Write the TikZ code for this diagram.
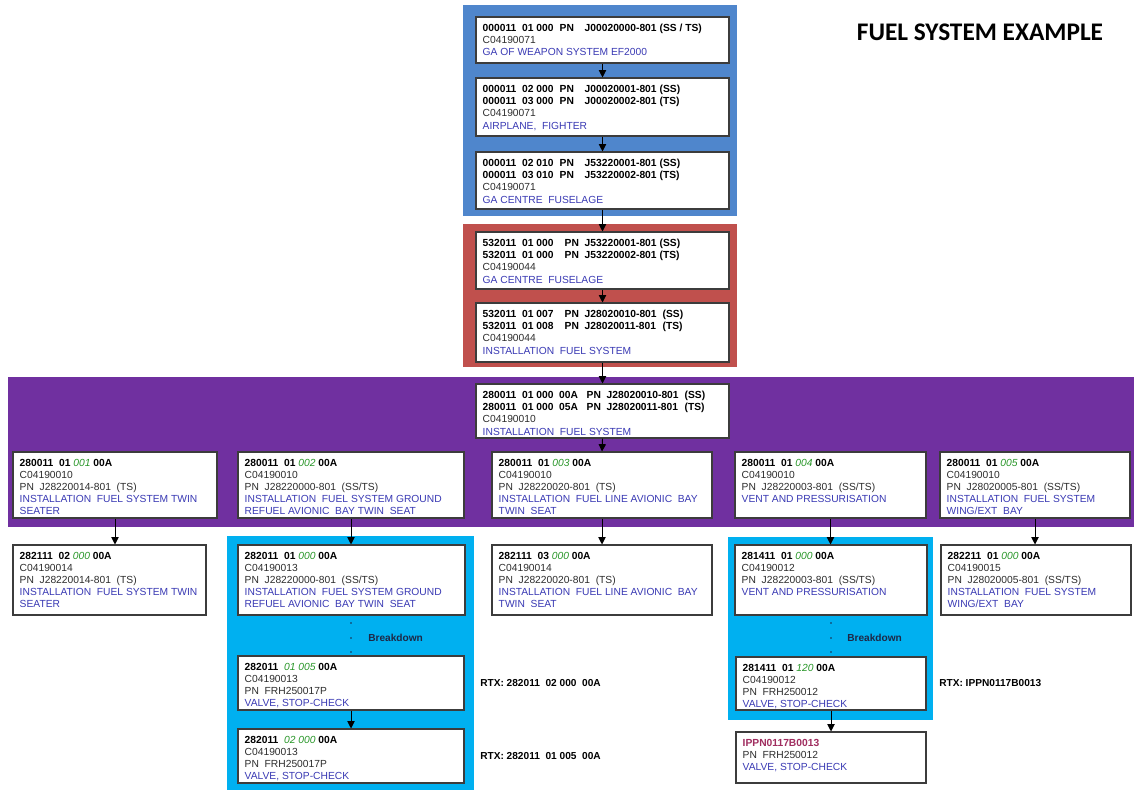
\documentclass[tikz,border=0pt]{standalone}
\usepackage{fontspec}
\setmainfont{Liberation Sans}
\newfontfamily\titlefont{Carlito}
\usetikzlibrary{arrows.meta}

% one unit = one pixel of the 1134 x 790 sheet
\newlength\pxu \setlength\pxu{0.75pt}

\definecolor{frameblue}{RGB}{79,134,204}
\definecolor{framered}{RGB}{192,80,77}
\definecolor{framepurple}{RGB}{112,48,160}
\definecolor{framecyan}{RGB}{0,176,240}
\definecolor{boxline}{RGB}{60,60,60}
\definecolor{codegray}{RGB}{45,45,45}
\definecolor{descblue}{RGB}{58,58,180}
\definecolor{codegreen}{RGB}{40,150,40}
\definecolor{ippnred}{RGB}{160,45,95}
\definecolor{bdnavy}{RGB}{30,40,70}

% text helpers
\newcommand\cn[1]{\textcolor{codegray}{#1}}
\newcommand\ds[1]{\textcolor{descblue}{#1}}
\newcommand\gn[1]{\textcolor{codegreen}{\mdseries\itshape #1}}
% header line: code | PN | part number | tag, in fixed columns
\newcommand\hdr[6]{\makebox[#1\pxu][l]{#2}\makebox[#3\pxu][l]{PN}\makebox[#4\pxu][l]{#5}#6}

\tikzset{
  itembox/.style={draw=boxline, line width=0.8pt, fill=white, inner sep=0pt},
  itemtext/.style={anchor=north west, inner sep=0pt, align=left, text=black,
    font=\fontsize{7.7pt}{9.1pt}\selectfont},
  frame/.style={draw=none, inner sep=0pt},
  arr/.style={draw=black, line width=0.7pt, -{Triangle[width=5.5pt,length=5.5pt]}},
  rtx/.style={anchor=west, inner sep=0pt, font=\fontsize{7.6pt}{9.1pt}\selectfont\bfseries},
  bdlabel/.style={anchor=west, inner sep=0pt, text=bdnavy, font=\fontsize{7.6pt}{9.1pt}\selectfont\bfseries},
  bddot/.style={circle, fill=bdnavy, inner sep=0pt, minimum size=1.4pt},
}

% \bx{name}{x1}{y1}{x2}{y2}{text}
\newcommand\bx[6]{%
  \node[itembox, minimum width={(#4-#2)*0.75pt}, minimum height={(#5-#3)*0.75pt}]
    (#1) at ({(#2+#4)/2},{(#3+#5)/2}) {};
  \node[itemtext] (#1t) at ([shift={(7,7.5)}]#1.north west) {#6};}
% \frm{name}{x1}{y1}{x2}{y2}{colour}
\newcommand\frm[6]{%
  \node[frame, fill=#6, minimum width={(#4-#2)*0.75pt}, minimum height={(#5-#3)*0.75pt}]
    (#1) at ({(#2+#4)/2},{(#3+#5)/2}) {};}

\begin{document}
\begin{tikzpicture}[x=0.75pt, y=-0.75pt]
\useasboundingbox[fill=white] (0,0) rectangle (1134,790);

% coloured groups
\frm{gtop}{463}{5}{737}{216}{frameblue}
\frm{gmid}{463}{224}{737}{367}{framered}
\frm{gfuel}{8}{377}{1134}{527}{framepurple}
\frm{gleft}{227}{536}{474}{790}{framecyan}
\frm{gright}{728}{537}{933}{720}{framecyan}

\node[font=\titlefont\bfseries\fontsize{19pt}{22pt}\selectfont, inner sep=0pt] (title) at (980,32) {FUEL SYSTEM EXAMPLE};

% weapon system level
\bx{b1}{476}{17}{729}{63}{\textbf{\hdr{77}{000011~ 01 000}{25}{75}{J00020000-801}{(SS / TS)}}\\\cn{C04190071}\\\ds{GA OF WEAPON SYSTEM EF2000}}
\bx{b2}{476}{78}{729}{136}{\textbf{\hdr{77}{000011~ 02 000}{25}{75}{J00020001-801}{(SS)}}\\\textbf{\hdr{77}{000011~ 03 000}{25}{75}{J00020002-801}{(TS)}}\\\cn{C04190071}\\\ds{AIRPLANE,~ FIGHTER}}
\bx{b3}{476}{152}{729}{209}{\textbf{\hdr{77}{000011~ 02 010}{25}{75}{J53220001-801}{(SS)}}\\\textbf{\hdr{77}{000011~ 03 010}{25}{75}{J53220002-801}{(TS)}}\\\cn{C04190071}\\\ds{GA CENTRE~ FUSELAGE}}

% airframe level
\bx{b4}{476}{232}{729}{289}{\textbf{\hdr{82}{532011~ 01 000}{20}{75}{J53220001-801}{(SS)}}\\\textbf{\hdr{82}{532011~ 01 000}{20}{75}{J53220002-801}{(TS)}}\\\cn{C04190044}\\\ds{GA CENTRE~ FUSELAGE}}
\bx{b5}{476}{303}{729}{362}{\textbf{\hdr{82}{532011~ 01 007}{20}{78}{J28020010-801}{(SS)}}\\\textbf{\hdr{82}{532011~ 01 008}{20}{78}{J28020011-801}{(TS)}}\\\cn{C04190044}\\\ds{INSTALLATION~ FUEL SYSTEM}}

% fuel system level
\bx{b6}{476}{384}{729}{438}{\textbf{\hdr{104}{280011~ 01 000~ 00A}{20}{78}{J28020010-801}{(SS)}}\\\textbf{\hdr{104}{280011~ 01 000~ 05A}{20}{78}{J28020011-801}{(TS)}}\\\cn{C04190010}\\\ds{INSTALLATION~ FUEL SYSTEM}}

\bx{fa}{13}{452}{217}{518}{\textbf{280011~ 01 \gn{001} 00A}\\\cn{C04190010}\\\cn{PN~ J28220014-801~ (TS)}\\\ds{INSTALLATION~ FUEL SYSTEM TWIN}\\\ds{SEATER}}
\bx{fb}{238}{452}{464}{518}{\textbf{280011~ 01 \gn{002} 00A}\\\cn{C04190010}\\\cn{PN~ J28220000-801~ (SS/TS)}\\\ds{INSTALLATION~ FUEL SYSTEM GROUND}\\\ds{REFUEL AVIONIC~ BAY TWIN~ SEAT}}
\bx{fc}{492}{452}{712}{518}{\textbf{280011~ 01 \gn{003} 00A}\\\cn{C04190010}\\\cn{PN~ J28220020-801~ (TS)}\\\ds{INSTALLATION~ FUEL LINE AVIONIC~ BAY}\\\ds{TWIN~ SEAT}}
\bx{fd}{735}{452}{926}{518}{\textbf{280011~ 01 \gn{004} 00A}\\\cn{C04190010}\\\cn{PN~ J28220003-801~ (SS/TS)}\\\ds{VENT AND PRESSURISATION}}
\bx{fe}{940}{452}{1130}{518}{\textbf{280011~ 01 \gn{005} 00A}\\\cn{C04190010}\\\cn{PN~ J28020005-801~ (SS/TS)}\\\ds{INSTALLATION~ FUEL SYSTEM}\\\ds{WING/EXT~ BAY}}

% sub-installation level
\bx{sa}{13}{545}{206}{615}{\textbf{282111~ 02 \gn{000} 00A}\\\cn{C04190014}\\\cn{PN~ J28220014-801~ (TS)}\\\ds{INSTALLATION~ FUEL SYSTEM TWIN}\\\ds{SEATER}}
\bx{sb}{238}{545}{465}{615}{\textbf{282011~ 01 \gn{000} 00A}\\\cn{C04190013}\\\cn{PN~ J28220000-801~ (SS/TS)}\\\ds{INSTALLATION~ FUEL SYSTEM GROUND}\\\ds{REFUEL AVIONIC~ BAY TWIN~ SEAT}}
\bx{sc}{492}{545}{712}{615}{\textbf{282111~ 03 \gn{000} 00A}\\\cn{C04190014}\\\cn{PN~ J28220020-801~ (TS)}\\\ds{INSTALLATION~ FUEL LINE AVIONIC~ BAY}\\\ds{TWIN~ SEAT}}
\bx{sd}{735}{545}{927}{615}{\textbf{281411~ 01 \gn{000} 00A}\\\cn{C04190012}\\\cn{PN~ J28220003-801~ (SS/TS)}\\\ds{VENT AND PRESSURISATION}}
\bx{se}{941}{545}{1131}{615}{\textbf{282211~ 01 \gn{000} 00A}\\\cn{C04190015}\\\cn{PN~ J28020005-801~ (SS/TS)}\\\ds{INSTALLATION~ FUEL SYSTEM}\\\ds{WING/EXT~ BAY}}

% part level
\bx{pb1}{238}{656}{464}{710}{\textbf{282011~ \gn{01 005} 00A}\\\cn{C04190013}\\\cn{PN~ FRH250017P}\\\ds{VALVE, STOP-CHECK}}
\bx{pb2}{238}{729}{464}{783}{\textbf{282011~ \gn{02 000} 00A}\\\cn{C04190013}\\\cn{PN~ FRH250017P}\\\ds{VALVE, STOP-CHECK}}
\bx{pd1}{736}{657}{926}{710}{\textbf{281411~ 01 \gn{120} 00A}\\\cn{C04190012}\\\cn{PN~ FRH250012}\\\ds{VALVE, STOP-CHECK}}
\bx{pd2}{736}{732}{926}{783}{\textcolor{ippnred}{\textbf{IPPN0117B0013}}\\\cn{PN~ FRH250012}\\\ds{VALVE, STOP-CHECK}}

% breakdown markers
\node[bddot] (db1) at (351,623) {};
\node[bddot] (db2) at (351,638) {};
\node[bddot] (db3) at (351,652) {};
\node[bdlabel] (bdl) at (368,638) {Breakdown};
\node[bddot] (dd1) at (831,623) {};
\node[bddot] (dd2) at (831,638) {};
\node[bddot] (dd3) at (831,652) {};
\node[bdlabel] (bdr) at (847,638) {Breakdown};

% cross references
\node[rtx] (rtx1) at (480,683) {RTX: 282011~ 02 000~ 00A};
\node[rtx] (rtx2) at (480,756) {RTX: 282011~ 01 005~ 00A};
\node[rtx] (rtx3) at (939,683) {RTX: IPPN0117B0013};

% connectors
\draw[arr] (b1.south) -- (b2.north);
\draw[arr] (b2.south) -- (b3.north);
\draw[arr] (b3.south) -- (b4.north);
\draw[arr] (b4.south) -- (b5.north);
\draw[arr] (b5.south) -- (b6.north);
\draw[arr] (b6.south) -- (fc.north);
\draw[arr] (fa.south) -- (fa.south |- sa.north);
\draw[arr] (fb.south) -- (fb.south |- sb.north);
\draw[arr] (fc.south) -- (sc.north);
\draw[arr] (fd.south) -- (fd.south |- sd.north);
\draw[arr] (fe.south) -- (fe.south |- se.north);
\draw[arr] (pb1.south) -- (pb2.north);
\draw[arr] (pd1.south) -- (pd2.north);
\end{tikzpicture}
\end{document}
